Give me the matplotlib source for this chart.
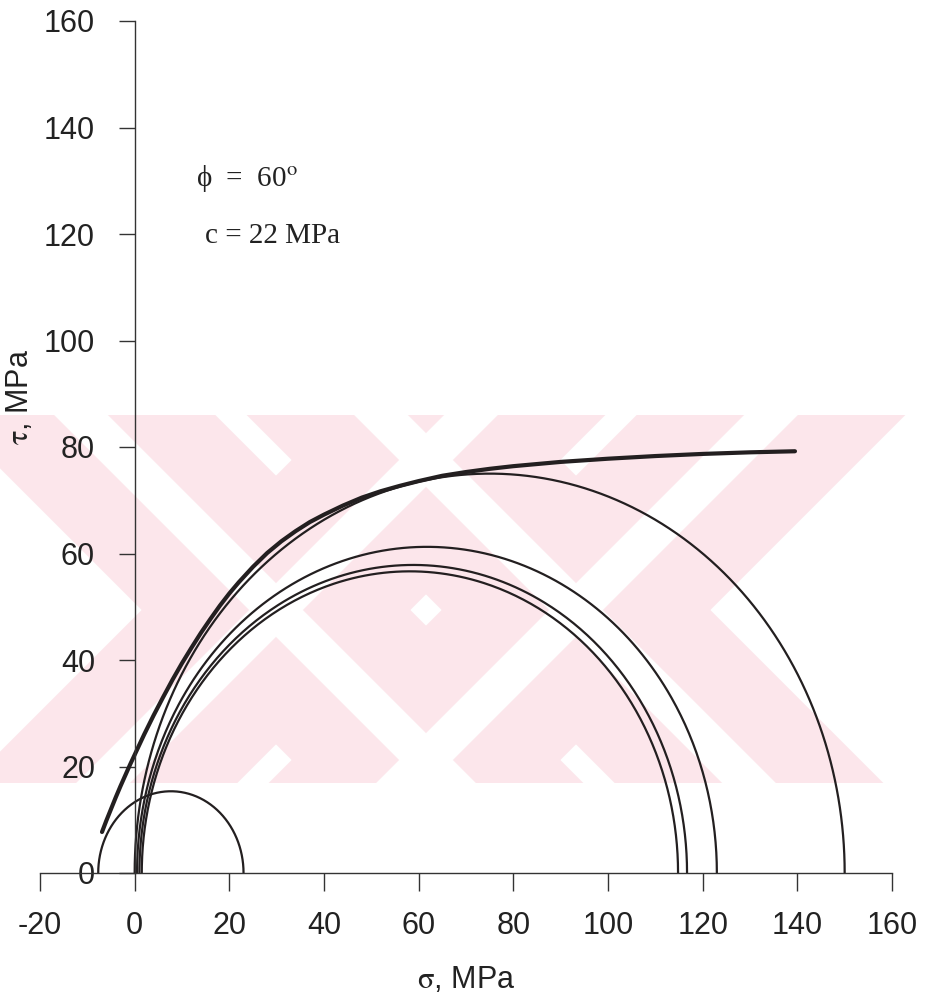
import numpy as np
import matplotlib
matplotlib.use("Agg")
import matplotlib.pyplot as plt
from matplotlib.patches import Polygon, Rectangle

plt.rcParams['font.family'] = ['Liberation Sans', 'DejaVu Sans']
plt.rcParams['mathtext.fontset'] = 'stix'

# Mohr circles: minor and major principal stresses (MPa)
sigma3 = [-7.7, 1.5, 1.0, 0.5, 0.0]
sigma1 = [23.0, 114.8, 116.7, 123.0, 150.0]

# Failure envelope (sigma, tau) in MPa
env_sigma = [-6.9, -6.0, -5.0, -4.0, -3.0, -2.0, -1.0, 0.0, 2.0, 4.0, 6.0,
             8.0, 10.0, 12.0, 14.0, 16.0, 18.0, 20.0, 22.0, 25.0, 28.0, 31.0,
             34.0, 37.0, 40.0, 44.0, 48.0, 52.0, 56.0, 60.0, 65.0, 70.0, 75.0,
             80.0, 90.0, 100.0, 110.0, 120.0, 130.0, 139.5]
env_tau = [7.7, 9.8, 12.0, 14.2, 16.3, 18.3, 20.3, 22.2, 26.0, 29.6, 33.0,
           36.3, 39.4, 42.3, 45.1, 47.7, 50.2, 52.5, 54.6, 57.5, 60.1, 62.3,
           64.2, 65.9, 67.3, 69.0, 70.5, 71.7, 72.7, 73.6, 74.6, 75.3, 75.9,
           76.4, 77.2, 77.8, 78.3, 78.7, 79.0, 79.2]

x_ticks = [-20, 0, 20, 40, 60, 80, 100, 120, 140, 160]
y_ticks = [0, 20, 40, 60, 80, 100, 120, 140, 160]

W, H = 928, 1008
fig = plt.figure(figsize=(W / 100, H / 100), dpi=100)
fig.patch.set_facecolor('white')

# background layer in pixel coordinates for the pink mark
bg = fig.add_axes([0, 0, 1, 1], zorder=0)
bg.set_xlim(0, W)
bg.set_ylim(H, 0)
bg.axis('off')
pink = '#fce6eb'
band_top, band_bot = 415, 783
clip = Rectangle((0, band_top), W, band_bot - band_top, transform=bg.transData)


def band(cx, cy, sign, half):
    d = np.array([1.0, sign]) / np.sqrt(2)
    n = np.array([-sign, 1.0]) / np.sqrt(2)
    c = np.array([cx, cy])
    L = 700
    return [c - L * d - half * n, c + L * d - half * n,
            c + L * d + half * n, c - L * d + half * n]


centres = (276, 576)
for cx in centres:
    for s in (1, -1):
        p = Polygon(band(cx, 610, s, 95), closed=True, fc=pink, ec='none')
        bg.add_patch(p)
        p.set_clip_path(clip)
for cx in centres:
    for s in (1, -1):
        p = Polygon(band(cx, 610, s, 19), closed=True, fc='white', ec='none')
        bg.add_patch(p)
        p.set_clip_path(clip)

ax = fig.add_axes([40 / W, 1 - 873 / H, (892 - 40) / W, (873 - 21) / H], zorder=1)
ax.patch.set_alpha(0)
ax.set_xlim(-20, 160)
ax.set_ylim(0, 160)

ink = '#231f20'
theta = np.linspace(0, np.pi, 400)
for s3, s1 in zip(sigma3, sigma1):
    c = (s1 + s3) / 2
    r = (s1 - s3) / 2
    ax.plot(c + r * np.cos(theta), r * np.sin(theta), color=ink, lw=1.6,
            clip_on=False, solid_capstyle='butt')

ax.plot(env_sigma, env_tau, color=ink, lw=3.0, solid_capstyle='round',
        solid_joinstyle='round')

for side in ('top', 'right'):
    ax.spines[side].set_visible(False)
ax.spines['left'].set_position(('data', 0))
ax.spines['left'].set_bounds(0, 160)
ax.spines['bottom'].set_bounds(-20, 160)
for side in ('left', 'bottom'):
    ax.spines[side].set_color('#333333')
    ax.spines[side].set_linewidth(1.0)

ax.set_xticks(x_ticks)
ax.set_yticks(y_ticks)
ax.set_xticklabels([str(v) for v in x_ticks])
ax.set_yticklabels([str(v) for v in y_ticks])
ax.tick_params(axis='x', direction='out', length=13, width=1.0, pad=14,
               labelsize=22, colors='#333333', labelcolor='#222222')
ax.tick_params(axis='y', direction='out', length=11.5, width=1.0, pad=17,
               labelsize=22, colors='#333333', labelcolor='#222222')

fig.text(466 / W, 1 - 980 / H, r'$\mathrm{\sigma}$, MPa', ha='center', va='center',
         fontsize=22, color='#222222')
fig.text(20 / W, 1 - 397 / H, r'$\mathrm{\tau}$, MPa', ha='center', va='center',
         fontsize=22, color='#222222', rotation=90)

serif = ['Liberation Serif', 'DejaVu Serif']
ax.text(13.0, 129.0, r'ϕ  =  60$^\mathrm{o}$', family=serif,
        fontsize=21, color='#222222', va='baseline', ha='left')
ax.text(14.9, 118.3, 'c = 22 MPa', family=serif,
        fontsize=21, color='#222222', va='baseline', ha='left')

fig.savefig('out.png', dpi=100, facecolor='white')
